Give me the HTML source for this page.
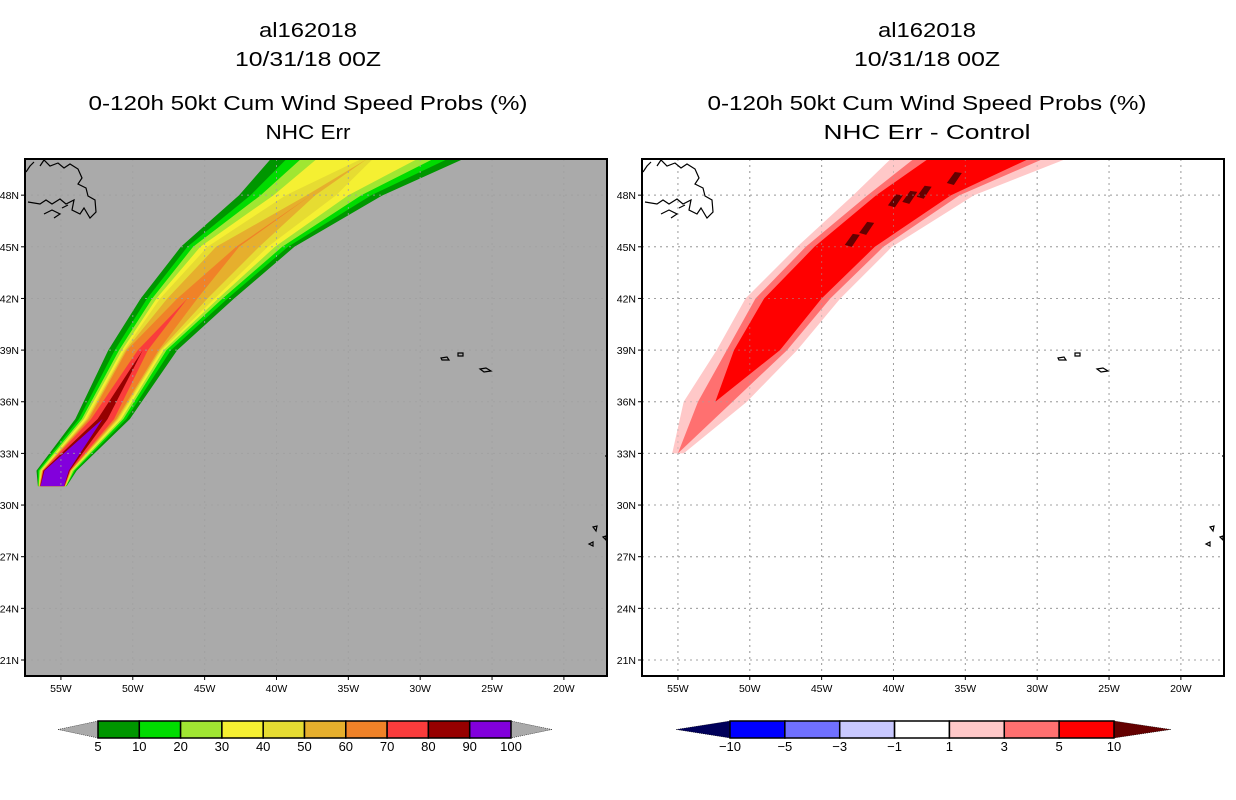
<!DOCTYPE html>
<html><head><meta charset="utf-8">
<style>
html,body{margin:0;padding:0;background:#fff;}
svg{display:block;font-family:"Liberation Sans",sans-serif;}
</style></head>
<body>
<svg id="fig" width="1236" height="800" viewBox="0 0 1236 800" xmlns="http://www.w3.org/2000/svg"></svg>
<script>
// ---------- data ----------
const lonTicks = [-55,-50,-45,-40,-35,-30,-25,-20];
const latTicks = [48,45,42,39,36,33,30,27,24,21];
// left panel: probability swath (centre line + half-widths in deg lon per contour level)
const probLevels = [5,10,20,30,40,50,60,70,80,90];
const probColors = ["#009600","#00dc00","#a0e632","#f5f032","#e6dc32","#e6af2d","#f08228","#fa3c3c","#960000","#8200dc"];
const probLats = [31.1,32,35,39,42,45,48,50.1,52];
const probCenter = [-55.6,-55.3,-52.1,-49.3,-46.2,-42.7,-37.6,-33.7,-29.5];
const probW5  = [1.0,1.4,1.9,2.4,3.25,3.95,5.0,6.7,8.0];
const probW10 = [0.98,1.3,1.65,1.95,2.8,3.5,4.2,5.6,6.5];
const probW20 = [0.96,1.2,1.45,1.65,2.45,3.1,3.5,4.6,5.2];
const probW30 = [0.94,1.1,1.3,1.45,2.15,2.6,2.6,3.5,4.0];
const probW40 = [0.92,1.05,1.15,1.3,1.9,2.1,1.75,0.4,0];
const probW50 = [0.9,1.0,1.05,1.2,1.4,1.5,0.3,0,0];
const probW60 = [0.88,0.98,0.95,1.1,0.7,0.1,0,0,0];
const probW70 = [0.86,0.95,0.8,0.35,0,0,0,0,0];
const probW80 = [0.84,0.92,0.35,0,0,0,0,0,0];
const probW90 = [0.82,0.85,0,0,0,0,0,0,0];
// right panel: difference swath
const diffLevels = [1,3,5];
const diffColors = ["#ffc8c8","#ff7070","#ff0000"];
const diffLats = [33,36,39,42,45,48,50.1,52];
const diffCenter = [-55.0,-52.4,-49.5,-47.0,-43.4,-38.6,-34.1,-30.0];
const diffW1 = [0.4,2.2,2.8,3.3,3.3,4.2,6.1,7.5];
const diffW3 = [0,1.2,2.1,2.6,2.7,3.2,4.5,6.0];
const diffW5 = [0,0,1.6,2.0,2.1,2.6,3.5,4.5];
const blobLons = [-39.9,-37.9,-35.8,-42.9,-41.9,-38.9];
const blobLats = [47.7,48.2,49.0,45.4,46.1,47.9];
// colour bars
const cbProbLabels = ["5","10","20","30","40","50","60","70","80","90","100"];
const cbDiffLabels = ["-10","-5","-3","-1","1","3","5","10"];
const cbDiffColors = ["#0000ff","#7070ff","#c8c8ff","#ffffff","#ffc8c8","#ff7070","#ff0000"];

// ---------- helpers ----------
const NS="http://www.w3.org/2000/svg";
const svg=document.getElementById('fig');
function mk(tag,attrs,parent){const e=document.createElementNS(NS,tag);for(const k in attrs)e.setAttribute(k,attrs[k]);(parent||svg).appendChild(e);return e;}
const PY0=159,PY1=676,PW=582;
const lon0=-57.5,lon1=-17.0,lat0=20.07,lat1=50.1;
function xs(off,lon){return off+(lon-lon0)/(lon1-lon0)*PW;}
function ys(lat){return PY0+(lat1-lat)/(lat1-lat0)*(PY1-PY0);}

function swath(g,off,lats,center,w,color){
  const L=[],R=[];
  for(let i=0;i<lats.length;i++){
    L.push(xs(off,center[i]-w[i]).toFixed(1)+','+ys(lats[i]).toFixed(1));
    R.push(xs(off,center[i]+w[i]).toFixed(1)+','+ys(lats[i]).toFixed(1));
  }
  return mk('polygon',{points:L.concat(R.reverse()).join(' '),fill:color,'stroke-linejoin':'round'},g);
}
function coast(g,off){
  const d=[
   "M26,172 L30,166 L34,162 M40,166 L44,160 L50,166 L58,163 L64,168 L70,164 L78,169 L82,178 L78,184 L86,188 L88,196 L95,200 L96,212 L90,218 L84,208 L80,214 L72,210 L74,200 L66,204 L60,199 L52,204 L46,200 L40,204 L28,202",
   "M44,214 L52,210 L60,214 L54,218 M62,208 L68,205",
   "M441,358 L447,357 L449,360 L442,360 Z","M458,353 L463,353 L463,356 L458,356 Z","M480,369 L486,368 L491,371 L484,372 Z",
   "M593,527 L597,526 L596,531 Z","M589,544 L593,542 L593,546 Z","M603,537 L606,536 L606,540 Z","M605,456 L607,456"
  ];
  d.forEach(s=>{
    mk('path',{d:s,fill:'none',stroke:'#000','stroke-width':1.2,transform:'translate('+(off-25)+',0)'},g);
  });
}

function panel(off,bg,name){
  const g=mk('g',{});
  
  
  const clipId='clip'+off;
  const cp=mk('clipPath',{id:clipId},g);
  mk('rect',{x:off,y:PY0,width:PW,height:PY1-PY0},cp);
  const bgR=mk('rect',{x:off,y:PY0,width:PW,height:PY1-PY0,fill:bg},g);
  
  
  const inner=mk('g',{'clip-path':'url(#'+clipId+')'},g);
  return {g,inner};
}
function drawGrid(parent,off,op){
  const grid=mk('g',{opacity:op},parent);
  
  
  lonTicks.forEach(l=>{const x=xs(off,l);mk('line',{x1:x,x2:x,y1:PY0,y2:PY1,stroke:'#a0a0a0','stroke-width':1,'stroke-dasharray':'2,4'},grid);});
  latTicks.forEach(l=>{const y=ys(l);mk('line',{x1:off,x2:off+PW,y1:y,y2:y,stroke:'#a0a0a0','stroke-width':1,'stroke-dasharray':'2,4'},grid);});
}
function axes(P,off){
  const fr=mk('rect',{x:off,y:PY0,width:PW,height:PY1-PY0,fill:'none',stroke:'#000','stroke-width':2},P.g);
  
  
  lonTicks.forEach(l=>{
    const x=xs(off,l);
    mk('line',{x1:x,x2:x,y1:PY1,y2:PY1+4,stroke:'#000'},P.g);
    const t=mk('text',{x:x,y:PY1+16,'font-size':10.5,'text-anchor':'middle'},P.g);
    t.textContent=(-l)+'W';
    
    
  });
  latTicks.forEach(l=>{
    const y=ys(l);
    mk('line',{x1:off-4,x2:off,y1:y,y2:y,stroke:'#000'},P.g);
    const t=mk('text',{x:off-6,y:y+4,'font-size':10.5,'text-anchor':'end'},P.g);
    t.textContent=l+'N';
    
    
  });
}
function titles(cx,lines){
  const ys_=[37,66,110,139];
  lines.forEach((s,i)=>{
    const t=mk('text',{x:cx,y:ys_[i],'font-size':20,'text-anchor':'middle',textLength:(s.length*12.2).toFixed(0),lengthAdjust:'spacingAndGlyphs'});
    t.textContent=s;
    
    
  });
}

// ---------- left panel ----------
titles(308,["al162018","10/31/18 00Z","0-120h 50kt Cum Wind Speed Probs (%)","NHC Err"]);
const PL=panel(25,'#aaaaaa','left-map-panel');
const probWs=[probW5,probW10,probW20,probW30,probW40,probW50,probW60,probW70,probW80,probW90];
probWs.forEach((w,i)=>{
  const p=swath(PL.inner,25,probLats,probCenter,w,probColors[i]);
  
  
});
drawGrid(PL.inner,25,0.8);
coast(PL.inner,25);
axes(PL,25);

// ---------- right panel ----------
titles(927,["al162018","10/31/18 00Z","0-120h 50kt Cum Wind Speed Probs (%)","NHC Err - Control"]);
const PR=panel(642,'#ffffff','right-map-panel');
drawGrid(PR.inner,642,1);
[diffW1,diffW3,diffW5].forEach((w,i)=>{
  const p=swath(PR.inner,642,diffLats,diffCenter,w,diffColors[i]);
  
  
});
blobLons.forEach((lo,i)=>{
  const x=xs(642,lo),y=ys(blobLats[i]);
  const p=mk('polygon',{points:(x-7)+','+(y+5)+' '+(x+1)+','+(y-6)+' '+(x+8)+','+(y-5)+' '+(x)+','+(y+7),fill:'#640000'},PR.inner);
  
  
});
drawGrid(PR.inner,642,0.5);
coast(PR.inner,642);
axes(PR,642);

// ---------- colour bars ----------
function colorbar(x0,x1,tipL,tipR,colors,labels,lc,rc,name){
  const g=mk('g',{});
  
  
  const y0=721,y1=738,ym=(y0+y1)/2;
  mk('polygon',{points:tipL+','+ym+' '+x0+','+y0+' '+x0+','+y1,fill:lc,stroke:'#000','stroke-width':0.5,'stroke-dasharray':'1,1'},g);
  mk('polygon',{points:tipR+','+ym+' '+x1+','+y0+' '+x1+','+y1,fill:rc,stroke:'#000','stroke-width':0.5,'stroke-dasharray':'1,1'},g);
  const n=colors.length,w=(x1-x0)/n;
  colors.forEach((c,i)=>{
    const r=mk('rect',{x:x0+i*w,y:y0,width:w,height:y1-y0,fill:c,stroke:'#000','stroke-width':1.5},g);
    
    
  });
  labels.forEach((s,i)=>{
    const t=mk('text',{x:x0+i*w,y:y1+13,'font-size':13,'text-anchor':'middle'},g);
    t.textContent=s.replace('-','\u2212');
    
    
  });
}
colorbar(98,511,58,552,probColors,cbProbLabels,'#aaaaaa','#aaaaaa','prob-colorbar');
colorbar(730,1114,676,1171,cbDiffColors,cbDiffLabels,'#00005a','#640000','diff-colorbar');
</script>
</body></html>
